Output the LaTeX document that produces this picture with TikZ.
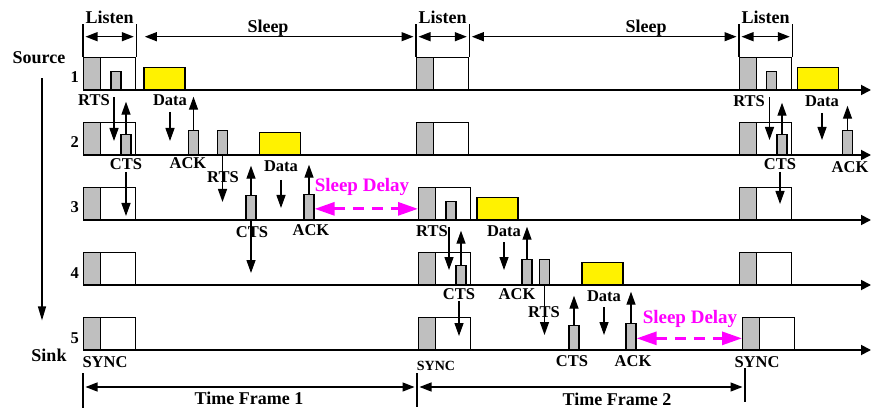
\documentclass[tikz,border=0pt]{standalone}
\usepackage{fontspec}
\setmainfont{Liberation Serif}
\usetikzlibrary{arrows.meta}
\definecolor{delaypink}{RGB}{255,0,255}

\begin{document}
\begin{tikzpicture}[
  x=1pt, y=1pt,
  big/.style={font=\fontsize{18}{20}\selectfont\bfseries, inner sep=1pt, anchor=base},
  lbl/.style={font=\fontsize{16.5}{18}\selectfont\bfseries, inner sep=1pt, anchor=base},
  slp/.style={font=\fontsize{19}{21}\selectfont\bfseries, text=delaypink, inner sep=1pt, anchor=base},
  slot/.style={draw, line width=1.3pt, fill=white, anchor=south west, minimum width=52pt, minimum height=32pt, inner sep=0pt,
    path picture={\fill[gray!50] (path picture bounding box.south west) rectangle ([xshift=17pt]path picture bounding box.north west);
      \draw[line width=1.3pt] ([xshift=17pt]path picture bounding box.south west) -- ([xshift=17pt]path picture bounding box.north west);}},
  pkt/.style={draw, line width=1.3pt, fill=gray!50, anchor=south, minimum width=10pt, inner sep=0pt},
  dpkt/.style={draw, line width=1.3pt, fill=yellow, anchor=south, minimum width=41pt, minimum height=22pt, inner sep=0pt},
  timeline/.style={line width=1.8pt, -{Triangle[length=10pt,width=10pt]}},
  sig/.style={line width=1.3pt, -{Triangle[length=13pt,width=9pt]}},
  span/.style={line width=1.3pt, shorten <=2.5pt, shorten >=2.5pt, {Triangle[length=12pt,width=9pt]}-{Triangle[length=12pt,width=9pt]}},
  delay/.style={delaypink, line width=3pt, dash pattern=on 11pt off 8pt, {Triangle[length=20pt,width=13pt]}-{Triangle[length=20pt,width=13pt]}}
]
\useasboundingbox (0,0) rectangle (872,410);

% listen windows of the five nodes
\node[slot] (slot1a) at (83,320) {};
\node[slot] (slot1b) at (416,320) {};
\node[slot] (slot1c) at (739,320) {};
\node[slot] (slot2a) at (83,255) {};
\node[slot] (slot2b) at (416,255) {};
\node[slot] (slot2c) at (739,255) {};
\node[slot] (slot3a) at (83,190) {};
\node[slot] (slot3b) at (418,190) {};
\node[slot] (slot3c) at (739,190) {};
\node[slot] (slot4a) at (83,125) {};
\node[slot] (slot4b) at (418,125) {};
\node[slot] (slot4c) at (739,125) {};
\node[slot] (slot5a) at (83,60) {};
\node[slot] (slot5b) at (418,60) {};
\node[slot] (slot5c) at (742,60) {};

% time axes
\draw[timeline] (slot1a.south west) -- ++(788,0);
\draw[timeline] (slot2a.south west) -- ++(788,0);
\draw[timeline] (slot3a.south west) -- ++(788,0);
\draw[timeline] (slot4a.south west) -- ++(788,0);
\draw[timeline] (slot5a.south west) -- ++(788,0);

\node[lbl, anchor=base east] (n1) at (80,327) {1};
\node[lbl, anchor=base east] (n2) at (80,262) {2};
\node[lbl, anchor=base east] (n3) at (80,197) {3};
\node[lbl, anchor=base east] (n4) at (80,132) {4};
\node[lbl, anchor=base east] (n5) at (80,67) {5};

\node[big] (src) at (39,346) {Source};
\node[big] (snk) at (49,49) {Sink};
\draw[line width=1.3pt, -{Triangle[length=14pt,width=8pt]}] ([xshift=3pt,yshift=-13pt]src.south) -- ++(0,-242);

% listen / sleep schedule
\draw[line width=1.3pt] (slot1a.north west) -- ++(0,33) (slot1a.north east) -- ++(0,33)
  (slot1b.north west) -- ++(0,33) (slot1b.north east) -- ++(0,33)
  (slot1c.north west) -- ++(0,33) (slot1c.north east) -- ++(0,33);
\draw[span] ([yshift=20pt]slot1a.north west) -- ([yshift=20pt]slot1a.north east);
\draw[span] ([yshift=20pt]slot1b.north west) -- ([yshift=20pt]slot1b.north east);
\draw[span] ([yshift=20pt]slot1c.north west) -- ([yshift=20pt]slot1c.north east);
\draw[span] ([xshift=6pt,yshift=20pt]slot1a.north east) -- ([yshift=20pt]slot1b.north west);
\draw[span] ([yshift=20pt]slot1b.north east) -- ([yshift=20pt]slot1c.north west);
\node[big] (lis1) at ([yshift=33pt]slot1a.north) {Listen};
\node[big] (lis2) at ([yshift=33pt]slot1b.north) {Listen};
\node[big] (lis3) at ([yshift=33pt]slot1c.north) {Listen};
\node[big] (zz1) at (268,377) {Sleep};
\node[big] (zz2) at (646,377) {Sleep};

% packets
\node[pkt, minimum height=18pt] (rts1a) at (116,320) {};
\node[dpkt] (dat1a) at (164.5,320) {};
\node[pkt, minimum height=20pt] (cts2a) at (126,255) {};
\node[pkt, minimum height=24pt] (ack2a) at (193.5,255) {};
\node[pkt, minimum height=24pt] (rts2a) at (222.5,255) {};
\node[dpkt] (dat2a) at (280,255) {};
\node[pkt, minimum height=24pt] (cts3a) at (251,190) {};
\node[pkt, minimum height=25pt] (ack3a) at (309,190) {};
\node[pkt, minimum height=18pt] (rts3b) at (451,190) {};
\node[dpkt] (dat3b) at (497.5,190) {};
\node[pkt, minimum height=19pt] (cts4b) at (461,125) {};
\node[pkt, minimum height=25pt] (ack4b) at (527,125) {};
\node[pkt, minimum height=25pt] (rts4b) at (544.5,125) {};
\node[dpkt] (dat4b) at (602.5,125) {};
\node[pkt, minimum height=24pt] (cts5b) at (574,60) {};
\node[pkt, minimum height=26pt] (ack5b) at (631,60) {};
\node[pkt, minimum height=18pt] (rts1c) at (771.5,320) {};
\node[dpkt] (dat1c) at (818,320) {};
\node[pkt, minimum height=20pt] (cts2c) at (782,255) {};
\node[pkt, minimum height=24pt] (ack2c) at (847.5,255) {};

% packet names
\node[lbl] (t-rts1a) at (94,304) {RTS};
\node[lbl] (t-dat1a) at (170,304) {Data};
\node[lbl] (t-cts2a) at (126,240) {CTS};
\node[lbl] (t-ack2a) at (188,241) {ACK};
\node[lbl] (t-rts2a) at (223,227) {RTS};
\node[lbl] (t-dat2a) at (281,238) {Data};
\node[lbl] (t-cts3a) at (252,173) {CTS};
\node[lbl] (t-ack3a) at (311,175) {ACK};
\node[lbl] (t-rts3b) at (432,174) {RTS};
\node[lbl] (t-dat3b) at (504,174) {Data};
\node[lbl] (t-cts4b) at (459,111) {CTS};
\node[lbl] (t-ack4b) at (517,111) {ACK};
\node[lbl] (t-rts4b) at (544,93) {RTS};
\node[lbl] (t-dat4b) at (604,109) {Data};
\node[lbl] (t-cts5b) at (572,44) {CTS};
\node[lbl] (t-ack5b) at (633,44) {ACK};
\node[lbl] (t-rts1c) at (749,303) {RTS};
\node[lbl] (t-dat1c) at (822,303) {Data};
\node[lbl] (t-cts2c) at (780,240) {CTS};
\node[lbl] (t-ack2c) at (850,237) {ACK};
\node[lbl] (sync1) at (105,43) {SYNC};
\node[lbl, font=\fontsize{14}{16}\selectfont\bfseries] (sync2) at (436,40) {SYNC};
\node[lbl] (sync3) at (757,43) {SYNC};

% hop-by-hop handshakes, first frame
\draw[sig] ([xshift=-2pt,yshift=-7pt]rts1a.south) -- ++(0,-44);
\draw[sig] (cts2a.north) -- ++(0,32);
\draw[sig] ([yshift=-6pt]t-dat1a.base) -- ++(0,-29);
\draw[sig] (ack2a.north) -- ++(0,33);
\draw[sig] ([yshift=-2pt]t-cts2a.base) -- ++(0,-44);
\draw[sig] (rts2a.south) -- ++(0,-47);
\draw[sig] (cts3a.north) -- ++(0,29);
\draw[sig] (cts3a.south) -- ++(0,-53);
\draw[sig] ([yshift=-8pt]t-dat2a.base) -- ++(0,-28);
\draw[sig] (ack3a.north) -- ++(0,29);
% second frame
\draw[sig] ([xshift=-2pt,yshift=-7pt]rts3b.south) -- ++(0,-43);
\draw[sig] (cts4b.north) -- ++(0,34);
\draw[sig] ([yshift=-6pt]t-dat3b.base) -- ++(0,-28);
\draw[sig] (ack4b.north) -- ++(0,32);
\draw[sig] ([yshift=-2pt]t-cts4b.base) -- ++(0,-35);
\draw[sig] (rts4b.south) -- ++(0,-50);
\draw[sig] (cts5b.north) -- ++(0,29);
\draw[sig] ([yshift=-6pt]t-dat4b.base) -- ++(0,-28);
\draw[sig] (ack5b.north) -- ++(0,31);
% third frame
\draw[sig] ([xshift=-2pt,yshift=-7pt]rts1c.south) -- ++(0,-43);
\draw[sig] (cts2c.north) -- ++(0,31);
\draw[sig] ([yshift=-6pt]t-dat1c.base) -- ++(0,-27);
\draw[sig] (ack2c.north) -- ++(0,24);
\draw[sig] ([yshift=-2pt]t-cts2c.base) -- ++(0,-32);

% waiting for the next listen period
\draw[delay] ([yshift=-2pt]ack3a.east) -- ([yshift=-2pt]ack3a.east -| slot3b.west);
\node[slp] (sd1) at (362,218) {Sleep Delay};
\draw[delay] ([yshift=-2pt]ack5b.east) -- ([yshift=-2pt]ack5b.east -| slot5c.west);
\node[slp] (sd2) at (690,87) {Sleep Delay};

% frame lengths
\coordinate (tf0) at (83,23);
\coordinate (tf1) at (417,23);
\coordinate (tf2) at (745,23);
\draw[line width=1.3pt] ([yshift=14pt]tf0) -- ([yshift=-21pt]tf0)
  ([yshift=14pt]tf1) -- ([yshift=-20pt]tf1)
  ([yshift=19pt]tf2) -- ([yshift=-15pt]tf2);
\draw[span] (tf0) -- (tf1);
\draw[span] (tf1) -- (tf2);
\node[big] (tfl1) at (249,6) {Time Frame 1};
\node[big] (tfl2) at (617,5) {Time Frame 2};
\end{tikzpicture}
\end{document}
